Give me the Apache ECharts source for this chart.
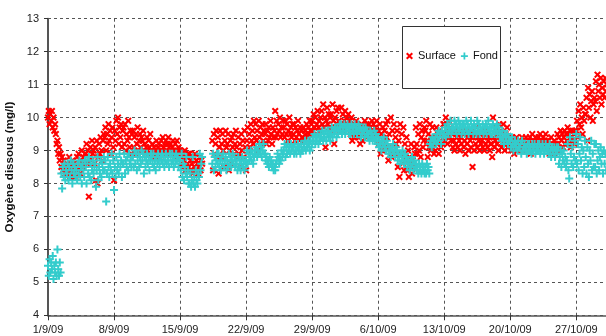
<!DOCTYPE html>
<html>
<head>
<meta charset="utf-8">
<script src="https://cdn.jsdelivr.net/npm/echarts@6/dist/echarts.min.js"></script>
<style>
  html, body { margin: 0; padding: 0; background: #fff; }
  #chart { width: 606px; height: 336px; }
</style>
</head>
<body>
<div id="chart"></div>
<script>
// Dissolved oxygen, surface and bottom probes, from 1 Sep 2009.
// Each row is one day, sampled every 2 hours (12 readings per day).
const seriesNames = ['Surface', 'Fond'];
const xTickLabels = ['1/9/09', '8/9/09', '15/9/09', '22/9/09', '29/9/09', '6/10/09', '13/10/09', '20/10/09', '27/10/09'];
const daysPerTick = 7;
const samplesPerDay = 12;
const yMin = 4, yMax = 13, yStep = 1;
const xMaxDay = 59.36;
const _ = null;

const surface = [
  [10.0, 10.2, 9.8, 10.1, 9.9, 10.2, 9.7, 10.0, 9.6, 9.8, 9.5, 9.2],
  [9.3, 8.9, 9.1, 8.7, 8.9, 8.5, 8.8, 8.4, 8.7, 8.5, 8.3, 8.6],
  [8.6, 8.3, 8.5, 8.8, 8.2, 8.6, 8.4, 8.7, 8.3, 8.6, 8.5, 8.2],
  [8.5, 8.8, 8.4, 8.9, 8.6, 8.3, 8.7, 9.0, 8.5, 8.8, 8.6, 8.9],
  [8.9, 9.2, 8.6, 9.0, 7.6, 8.8, 9.1, 8.7, 9.3, 8.9, 9.0, 8.6],
  [9.1, 8.1, 9.3, 8.0, 8.8, 9.2, 8.9, 9.4, 9.0, 8.7, 9.3, 9.5],
  [9.4, 9.7, 9.0, 9.5, 9.2, 9.8, 9.3, 9.6, 8.9, 9.4, 9.7, 9.1],
  [8.1, 9.6, 9.3, 9.9, 9.5, 10.0, 9.2, 9.7, 9.4, 9.8, 9.1, 9.6],
  [9.7, 9.2, 9.8, 9.0, 9.5, 9.3, 9.9, 9.4, 9.1, 9.6, 8.9, 9.5],
  [9.6, 9.1, 9.4, 8.9, 9.5, 9.2, 9.7, 9.0, 9.3, 9.5, 9.1, 9.4],
  [9.3, 9.6, 9.0, 9.2, 8.9, 9.1, 9.4, 9.0, 9.3, 9.1, 9.5, 8.9],
  [9.0, 9.2, 8.9, 9.1, 8.8, 9.0, 9.3, 8.9, 9.1, 9.2, 8.8, 9.0],
  [9.3, 9.0, 9.4, 9.1, 9.2, 8.9, 9.3, 9.0, 9.2, 9.4, 9.1, 8.9],
  [9.2, 8.9, 9.1, 9.3, 9.0, 8.8, 9.2, 9.0, 9.3, 8.9, 9.1, 9.0],
  [9.0, 8.8, 8.6, 8.9, 8.5, 8.7, 9.0, 8.4, 8.8, 8.6, 8.9, 8.5],
  [8.9, 8.4, 8.7, 8.6, 8.3, 8.8, 8.5, 8.9, 8.4, 8.7, 8.6, 8.3],
  [8.5, 8.8, 8.4, 8.7, 8.6, _, _, _, _, _, _, _],
  [_, _, _, _, _, 9.3, 8.4, 9.5, 8.9, 9.2, 9.6, 8.8],
  [9.4, 8.3, 9.1, 9.6, 8.8, 9.2, 9.5, 9.0, 8.5, 9.3, 9.6, 9.1],
  [9.2, 9.5, 8.4, 9.0, 9.3, 8.6, 9.4, 9.1, 9.5, 8.9, 9.2, 9.6],
  [9.1, 8.8, 9.4, 8.9, 9.2, 8.5, 9.5, 9.0, 9.3, 8.8, 9.6, 9.1],
  [8.4, 9.3, 9.7, 9.0, 9.5, 9.1, 9.8, 9.3, 9.6, 9.2, 9.9, 9.4],
  [9.8, 9.3, 9.6, 9.0, 9.9, 9.4, 9.7, 9.2, 9.5, 9.8, 9.3, 9.6],
  [9.5, 9.8, 9.2, 9.6, 9.3, 9.7, 9.4, 9.9, 9.5, 9.2, 9.7, 9.4],
  [9.6, 10.2, 9.4, 9.9, 9.5, 9.8, 9.6, 10.0, 9.4, 9.7, 9.5, 9.9],
  [9.7, 9.4, 9.9, 9.5, 9.8, 9.3, 9.6, 10.0, 9.5, 9.7, 9.4, 9.8],
  [9.5, 9.8, 9.3, 9.7, 9.4, 9.6, 9.9, 9.5, 9.3, 9.7, 9.6, 9.4],
  [9.4, 9.7, 9.3, 9.6, 9.5, 9.8, 9.4, 9.7, 9.5, 9.9, 9.6, 9.8],
  [9.9, 9.6, 10.1, 9.7, 10.0, 9.5, 9.8, 10.2, 9.7, 9.9, 9.6, 10.0],
  [10.2, 9.8, 10.4, 9.7, 10.0, 9.1, 9.9, 10.3, 9.8, 10.1, 9.7, 10.0],
  [10.1, 9.6, 10.4, 9.9, 9.2, 10.0, 9.7, 10.2, 9.8, 10.3, 9.9, 9.6],
  [9.8, 10.3, 9.6, 10.1, 9.7, 9.9, 10.2, 9.8, 10.0, 9.7, 10.1, 9.9],
  [9.9, 9.5, 10.0, 9.3, 9.7, 9.4, 9.8, 9.6, 9.9, 9.5, 9.7, 9.4],
  [9.4, 9.2, 9.6, 9.8, 9.3, 9.7, 9.5, 9.9, 9.6, 9.8, 9.4, 9.7],
  [9.8, 9.5, 9.7, 9.4, 9.9, 9.6, 9.8, 9.5, 9.7, 9.6, 9.9, 9.5],
  [9.6, 9.2, 9.8, 8.9, 9.5, 9.0, 9.7, 9.3, 9.6, 9.1, 9.8, 9.4],
  [9.9, 8.7, 9.5, 9.1, 10.0, 8.8, 9.6, 9.0, 9.8, 8.9, 9.4, 9.2],
  [9.6, 8.5, 9.3, 8.2, 9.8, 8.9, 9.5, 8.6, 9.7, 8.4, 9.2, 8.7],
  [9.4, 8.4, 9.0, 8.2, 8.8, 8.6, 9.2, 8.3, 8.7, 8.5, 9.1, 8.9],
  [9.7, 9.2, 8.9, 9.5, 9.0, 9.8, 8.8, 9.4, 9.6, 9.1, 9.3, 9.7],
  [9.6, 9.9, 9.3, 8.8, 9.5, 9.1, 9.8, 9.0, 9.4, 9.7, 9.2, 8.9],
  [9.4, 9.0, 9.7, 9.2, 9.5, 8.9, 9.6, 9.3, 9.1, 9.5, 9.2, 9.8],
  [9.8, 9.3, 10.0, 9.5, 9.2, 9.6, 9.9, 9.4, 9.7, 9.3, 9.5, 9.1],
  [9.3, 9.0, 9.6, 9.2, 9.4, 9.1, 9.5, 9.3, 9.0, 9.4, 9.2, 9.6],
  [9.5, 9.1, 9.3, 8.9, 9.6, 9.2, 9.4, 9.0, 9.5, 9.3, 9.1, 9.4],
  [8.5, 9.4, 9.0, 9.5, 9.2, 9.7, 9.1, 9.4, 9.3, 9.0, 9.5, 9.2],
  [9.3, 9.1, 9.4, 9.0, 9.6, 9.2, 9.5, 9.1, 9.3, 9.4, 9.0, 9.2],
  [9.2, 8.8, 10.0, 9.4, 9.1, 9.3, 9.7, 9.2, 9.5, 9.0, 9.8, 9.3],
  [9.6, 9.1, 9.4, 9.8, 9.2, 9.0, 9.5, 9.3, 9.7, 9.1, 9.4, 9.2],
  [9.3, 9.0, 9.4, 9.1, 9.2, 8.9, 9.3, 9.1, 9.4, 9.0, 9.2, 9.1],
  [9.3, 9.1, 9.2, 9.4, 9.0, 9.2, 9.3, 9.1, 9.4, 9.2, 9.0, 9.3],
  [9.3, 9.4, 8.9, 9.2, 9.5, 9.1, 9.3, 9.2, 9.4, 9.1, 9.3, 9.2],
  [9.4, 9.2, 9.5, 9.1, 9.3, 9.2, 9.4, 9.3, 9.1, 9.5, 9.2, 9.3],
  [9.1, 9.3, 8.9, 9.2, 9.4, 9.0, 9.2, 9.1, 9.3, 8.9, 9.2, 9.0],
  [9.5, 9.2, 9.4, 9.0, 9.6, 9.3, 9.5, 9.1, 9.4, 9.6, 9.2, 9.5],
  [9.3, 9.7, 9.2, 9.5, 9.6, 9.1, 9.4, 9.6, 9.3, 9.5, 9.2, 9.6],
  [9.6, 9.9, 9.4, 10.2, 9.8, 10.4, 9.7, 10.0, 9.5, 10.3, 9.9, 10.1],
  [10.1, 10.6, 9.3, 10.9, 10.3, 10.7, 10.0, 10.5, 10.8, 9.9, 10.4, 10.6],
  [10.5, 11.1, 10.2, 11.3, 10.8, 11.0, 10.6, 11.2, 10.4, 10.9, 10.7, 11.1],
  [10.6, 11.2, 10.8, 11.0]
];

const fond = [
  [5.5, 5.2, 5.7, 5.3, 5.6, 5.4, 5.8, 5.1, 5.5, 5.3, 5.6, 5.2],
  [6.0, 5.4, 5.2, 5.6, 5.3, 8.3, 7.85, 8.5, 8.2, 8.6, 8.1, 8.4],
  [8.3, 8.6, 8.1, 8.5, 8.2, 8.7, 8.4, 8.0, 8.6, 8.3, 8.5, 8.2],
  [8.4, 8.1, 8.6, 8.3, 8.7, 8.2, 8.5, 8.0, 8.6, 8.4, 8.2, 8.7],
  [8.5, 8.0, 8.7, 8.3, 8.8, 8.2, 8.6, 8.1, 8.4, 8.7, 8.3, 8.5],
  [8.6, 7.9, 8.4, 8.8, 8.1, 8.5, 8.3, 8.7, 8.2, 8.6, 8.4, 8.8],
  [8.4, 8.7, 7.45, 8.3, 8.8, 8.5, 8.2, 8.6, 8.4, 8.9, 8.3, 8.7],
  [7.8, 8.5, 8.2, 8.8, 8.4, 8.6, 8.3, 8.9, 8.5, 8.7, 8.2, 8.6],
  [8.6, 8.9, 8.3, 8.7, 8.5, 8.8, 8.4, 8.9, 8.6, 8.7, 8.5, 8.8],
  [8.8, 8.5, 9.0, 8.6, 8.9, 8.4, 8.7, 8.9, 8.5, 8.8, 8.6, 9.0],
  [8.7, 8.9, 8.3, 8.8, 8.5, 8.7, 8.9, 8.6, 8.8, 8.4, 8.7, 8.9],
  [8.8, 8.6, 8.9, 8.5, 8.7, 8.4, 8.8, 8.6, 8.9, 8.7, 8.5, 8.8],
  [8.7, 8.9, 8.6, 8.8, 8.5, 8.7, 8.9, 8.6, 8.8, 8.7, 8.5, 8.9],
  [8.8, 8.6, 8.9, 8.7, 8.5, 8.8, 8.6, 8.9, 8.7, 8.8, 8.5, 8.7],
  [8.7, 8.4, 8.9, 8.2, 8.6, 8.1, 8.5, 8.3, 8.8, 8.2, 8.4, 8.0],
  [8.0, 8.3, 7.9, 8.1, 8.8, 8.0, 8.2, 7.9, 8.4, 8.1, 8.0, 8.3],
  [8.2, 8.9, 8.4, 8.6, 8.8, _, _, _, _, _, _, _],
  [_, _, _, _, _, 8.6, 8.9, 8.4, 8.8, 8.5, 8.7, 8.9],
  [8.6, 8.9, 8.5, 8.7, 8.4, 8.8, 8.6, 8.9, 8.5, 8.7, 8.8, 8.4],
  [8.7, 8.5, 8.9, 8.6, 8.8, 8.5, 8.7, 8.9, 8.6, 8.8, 8.5, 8.7],
  [8.6, 8.4, 8.8, 8.5, 8.7, 8.4, 8.6, 8.8, 8.5, 8.7, 8.4, 8.6],
  [8.7, 9.0, 8.6, 8.9, 8.7, 8.8, 9.0, 8.7, 8.9, 8.6, 8.8, 9.0],
  [8.9, 9.1, 8.8, 9.0, 8.9, 9.2, 8.9, 9.1, 8.8, 9.0, 9.2, 8.9],
  [8.9, 8.7, 8.8, 8.6, 8.7, 8.5, 8.8, 8.6, 8.7, 8.5, 8.6, 8.4],
  [8.5, 8.4, 8.6, 8.7, 8.9, 8.8, 8.6, 8.8, 8.7, 9.0, 8.8, 8.9],
  [9.0, 9.2, 8.8, 9.1, 8.9, 9.2, 9.0, 9.1, 8.9, 9.2, 9.0, 9.1],
  [9.1, 8.9, 9.2, 9.0, 8.9, 9.1, 9.2, 9.0, 9.1, 8.9, 9.2, 9.0],
  [9.0, 9.2, 9.1, 9.3, 9.0, 9.2, 9.1, 9.3, 9.2, 9.0, 9.3, 9.1],
  [9.2, 9.4, 9.3, 9.5, 9.2, 9.4, 9.3, 9.5, 9.2, 9.4, 9.3, 9.5],
  [9.4, 9.6, 9.3, 9.5, 9.4, 9.6, 9.3, 9.5, 9.6, 9.4, 9.5, 9.3],
  [9.5, 9.7, 9.4, 9.6, 9.5, 9.7, 9.6, 9.4, 9.7, 9.5, 9.6, 9.8],
  [9.6, 9.8, 9.5, 9.7, 9.6, 9.8, 9.5, 9.7, 9.6, 9.8, 9.7, 9.5],
  [9.7, 9.5, 9.8, 9.6, 9.7, 9.5, 9.8, 9.6, 9.7, 9.5, 9.6, 9.8],
  [9.6, 9.7, 9.4, 9.6, 9.5, 9.7, 9.6, 9.4, 9.7, 9.5, 9.6, 9.4],
  [9.5, 9.3, 9.6, 9.4, 9.5, 9.3, 9.4, 9.6, 9.3, 9.5, 9.4, 9.2],
  [9.4, 9.1, 9.3, 9.2, 9.0, 9.3, 9.2, 9.4, 9.1, 9.2, 9.0, 9.3],
  [9.2, 8.9, 9.1, 9.0, 8.8, 9.1, 9.0, 9.2, 8.9, 9.0, 8.8, 9.1],
  [9.0, 8.7, 8.9, 8.8, 8.6, 8.9, 8.7, 9.0, 8.8, 8.6, 8.9, 8.7],
  [8.8, 8.5, 8.7, 8.6, 8.4, 8.7, 8.5, 8.8, 8.6, 8.4, 8.7, 8.5],
  [8.6, 8.4, 8.5, 8.3, 8.6, 8.4, 8.5, 8.3, 8.6, 8.4, 8.5, 8.3],
  [8.5, 8.3, 8.6, 8.4, 8.5, 8.3, 9.2, 9.3, 9.1, 9.4, 9.2, 9.3],
  [9.3, 9.4, 9.2, 9.5, 9.3, 9.6, 9.4, 9.5, 9.2, 9.6, 9.4, 9.5],
  [9.5, 9.7, 9.4, 9.6, 9.8, 9.5, 9.7, 9.6, 9.9, 9.5, 9.7, 9.6],
  [9.7, 9.9, 9.6, 9.8, 9.5, 9.7, 9.9, 9.6, 9.8, 9.7, 9.5, 9.8],
  [9.6, 9.8, 9.5, 9.7, 9.9, 9.6, 9.8, 9.5, 9.7, 9.6, 9.9, 9.7],
  [9.7, 9.5, 9.8, 9.6, 9.7, 9.5, 9.9, 9.6, 9.8, 9.5, 9.7, 9.6],
  [9.6, 9.8, 9.5, 9.7, 9.6, 9.8, 9.5, 9.7, 9.9, 9.6, 9.7, 9.5],
  [9.7, 9.5, 9.8, 9.6, 9.5, 9.7, 9.6, 9.8, 9.5, 9.7, 9.6, 9.4],
  [9.5, 9.3, 9.6, 9.4, 9.2, 9.5, 9.4, 9.3, 9.5, 9.2, 9.4, 9.3],
  [9.3, 9.1, 9.4, 9.2, 9.0, 9.2, 9.3, 9.1, 9.2, 9.0, 9.3, 9.1],
  [9.1, 9.2, 8.9, 9.3, 9.0, 9.1, 9.2, 9.0, 9.1, 8.9, 9.2, 9.0],
  [9.2, 9.0, 9.1, 8.9, 9.2, 9.0, 9.1, 9.2, 8.9, 9.1, 9.0, 9.2],
  [9.0, 9.2, 8.9, 9.1, 9.0, 9.2, 9.1, 8.9, 9.0, 9.2, 9.1, 9.0],
  [9.1, 8.9, 9.2, 9.0, 8.8, 9.1, 9.0, 8.9, 9.1, 8.8, 9.0, 9.1],
  [8.9, 9.1, 8.6, 8.8, 9.0, 8.5, 8.9, 8.7, 9.0, 8.6, 8.8, 8.5],
  [8.7, 9.2, 8.4, 8.15, 9.4, 8.9, 8.6, 9.1, 8.5, 8.8, 9.3, 8.7],
  [9.5, 8.6, 9.2, 8.4, 8.9, 9.4, 8.7, 9.1, 8.3, 9.0, 8.5, 9.3],
  [8.8, 8.3, 9.1, 8.6, 8.2, 9.0, 8.7, 9.3, 8.4, 8.9, 8.5, 9.2],
  [8.5, 9.2, 8.3, 8.7, 9.0, 8.4, 8.8, 9.1, 8.6, 8.9, 8.3, 9.0],
  [8.6, 8.9, 8.4, 8.8]
];

// Turn day rows into [dayOffset, value] pairs
function toPoints(rows) {
  const pts = [];
  rows.forEach((row, day) => {
    row.forEach((v, k) => {
      if (v !== null) pts.push([day + k / samplesPerDay, v]);
    });
  });
  return pts;
}

const FONT = "'Liberation Sans', Arial, sans-serif";
const crossPath = 'path://M0,2 L2,0 L5,3 L8,0 L10,2 L7,5 L10,8 L8,10 L5,7 L2,10 L0,8 L3,5 Z';
const plusPath = 'path://M3.75,0 H6.25 V3.75 H10 V6.25 H6.25 V10 H3.75 V6.25 H0 V3.75 H3.75 Z';
const RED = '#ff0000';
const CYAN = '#33cccc';

const chart = echarts.init(document.getElementById('chart'), null, { renderer: 'canvas' });

chart.setOption({
  animation: false,
  backgroundColor: '#ffffff',
  textStyle: { fontFamily: FONT },
  grid: {
    left: 48, right: -2, top: 18.7, bottom: 20.7,
    containLabel: false,
    outerBoundsMode: 'none'
  },
  xAxis: {
    type: 'value',
    min: 0,
    max: xMaxDay,
    interval: daysPerTick,
    axisLine: { show: true, onZero: false, lineStyle: { color: '#555', width: 1.5 } },
    axisTick: { show: true, length: 5, lineStyle: { color: '#333' } },
    axisLabel: {
      margin: 9,
      fontSize: 11,
      color: '#222',
      fontFamily: FONT,
      showMaxLabel: false,
      formatter: function (v) {
        const i = Math.round(v / daysPerTick);
        return Math.abs(v - i * daysPerTick) < 1e-6 && xTickLabels[i] ? xTickLabels[i] : '';
      }
    },
    splitLine: { show: true, lineStyle: { color: '#555', type: [3, 3], width: 1 } }
  },
  yAxis: {
    type: 'value',
    min: yMin,
    max: yMax,
    interval: yStep,
    name: 'Oxygène dissous (mg/l)',
    nameLocation: 'middle',
    nameGap: 31,
    nameTextStyle: { fontSize: 11.6, fontWeight: 'bold', color: '#111', fontFamily: FONT },
    axisLine: { show: true, lineStyle: { color: '#555', width: 2 } },
    axisTick: { show: true, length: 4, lineStyle: { color: '#333' } },
    axisLabel: { margin: 9, fontSize: 11, color: '#222', fontFamily: FONT },
    splitLine: { show: true, lineStyle: { color: '#555', type: [3, 3], width: 1 } }
  },
  graphic: [{
    type: 'rect',
    z: 50,
    shape: { x: 402.5, y: 26.5, width: 98, height: 62 },
    style: { fill: '#ffffff', stroke: '#333333', lineWidth: 1 }
  }],
  legend: {
    z: 60,
    left: 406,
    top: 50.5,
    padding: 0,
    itemGap: 5,
    itemWidth: 7,
    itemHeight: 7,
    textStyle: { fontSize: 11, color: '#111', fontFamily: FONT },
    data: [
      { name: seriesNames[0], icon: crossPath, itemStyle: { color: RED } },
      { name: seriesNames[1], icon: plusPath, itemStyle: { color: CYAN } }
    ]
  },
  series: [
    {
      name: seriesNames[0],
      type: 'scatter',
      symbol: crossPath,
      symbolSize: 7,
      itemStyle: { color: RED, opacity: 1 },
      data: toPoints(surface)
    },
    {
      name: seriesNames[1],
      type: 'scatter',
      symbol: plusPath,
      symbolSize: 8,
      itemStyle: { color: CYAN, opacity: 1 },
      data: toPoints(fond)
    }
  ]
});
</script>
</body>
</html>
